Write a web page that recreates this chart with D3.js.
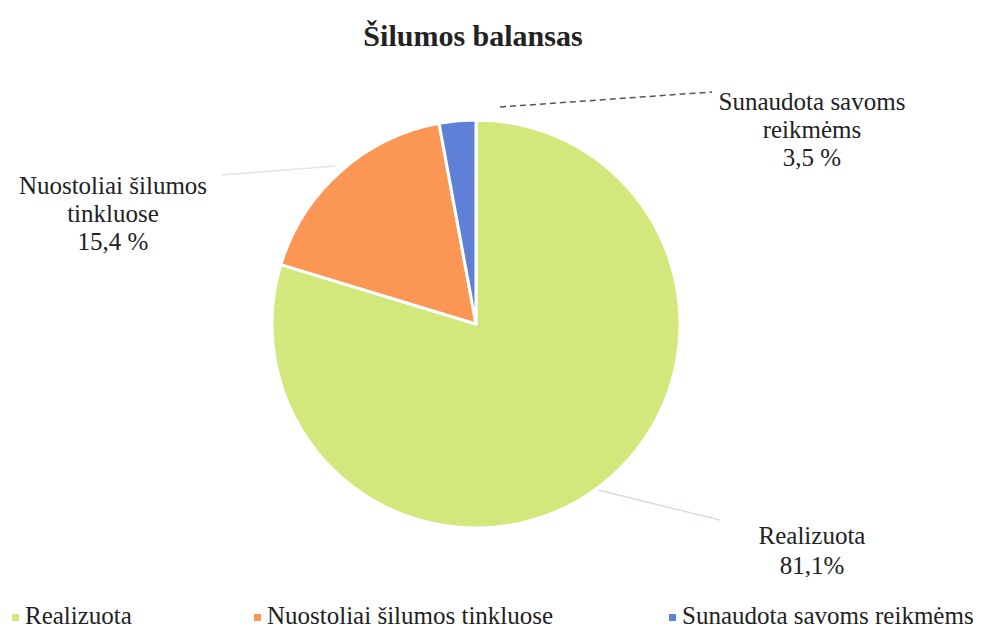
<!DOCTYPE html>
<html>
<head>
<meta charset="utf-8">
<script src="https://cdn.jsdelivr.net/npm/d3@7"></script>
<style>
  body { margin: 0; background: #fff; }
  svg text { font-family: "Liberation Serif", "Times New Roman", serif; fill: #222; }
</style>
</head>
<body>
<svg id="chart" width="981" height="629"></svg>
<script>
// Šilumos balansas - pie chart

const categories = ['Realizuota', 'Nuostoliai šilumos tinkluose', 'Sunaudota savoms reikmėms'];
// slice sizes as drawn in the picture (percent)
const sliceValues = [79.7, 17.4, 2.9];
const colors = ['#d2e87c', '#fc9654', '#5e80d6'];
// data label text, one array of lines per slice
const labelLines = [
    ['Realizuota', '81,1%'],
    ['Nuostoliai šilumos', 'tinkluose', '15,4 %'],
    ['Sunaudota savoms', 'reikmėms', '3,5 %']
];

const width = 981, height = 629;
const cx = 476, cy = 324, radius = 204;

const svg = d3.select('#chart');

svg.append('text')
    .attr('x', 473).attr('y', 46)
    .attr('text-anchor', 'middle')
    .attr('font-size', 30)
    .attr('font-weight', 'bold')
    .text('Šilumos balansas');

const pie = d3.pie().sort(null).value(d => d);
const arc = d3.arc().innerRadius(0).outerRadius(radius);
const arcs = pie(sliceValues);

const g = svg.append('g').attr('transform', `translate(${cx},${cy})`);

g.selectAll('path')
    .data(arcs)
    .enter()
    .append('path')
    .attr('d', arc)
    .attr('fill', (d, i) => colors[i])
    .attr('stroke', '#fff')
    .attr('stroke-width', 3)
    .attr('stroke-linejoin', 'round');

// label positions (center of text block) and leader lines
const labelPos = [
    { x: 812, y: 551, lh: 30, from: [598, 490], to: [720, 520], dash: null, color: '#d8dbe4' },
    { x: 113, y: 214, lh: 28, from: [222, 175], to: [335, 166], dash: null, color: '#e4e4e4' },
    { x: 812, y: 130, lh: 28, from: [500, 107], to: [712, 92], dash: '6,4', color: '#555' }
];

arcs.forEach((d, i) => {
    const p = labelPos[i];
    svg.append('line')
        .attr('x1', p.from[0]).attr('y1', p.from[1])
        .attr('x2', p.to[0]).attr('y2', p.to[1])
        .attr('stroke', p.color)
        .attr('stroke-width', 1.5)
        .attr('stroke-dasharray', p.dash);

    const lines = labelLines[i];
    const top = p.y - (lines.length - 1) * p.lh / 2;
    const t = svg.append('text')
        .attr('text-anchor', 'middle')
        .attr('font-size', 25);
    lines.forEach((ln, j) => {
        t.append('tspan')
            .attr('x', p.x)
            .attr('y', top + j * p.lh + 8)
            .text(ln);
    });
});

// legend
const legendX = [12, 254, 669];
const legend = svg.append('g');
categories.forEach((c, i) => {
    legend.append('rect')
        .attr('x', legendX[i]).attr('y', 614)
        .attr('width', 7).attr('height', 7)
        .attr('fill', colors[i]);
    legend.append('text')
        .attr('x', legendX[i] + 13).attr('y', 624)
        .attr('font-size', 25)
        .text(c);
});
</script>
</body>
</html>
